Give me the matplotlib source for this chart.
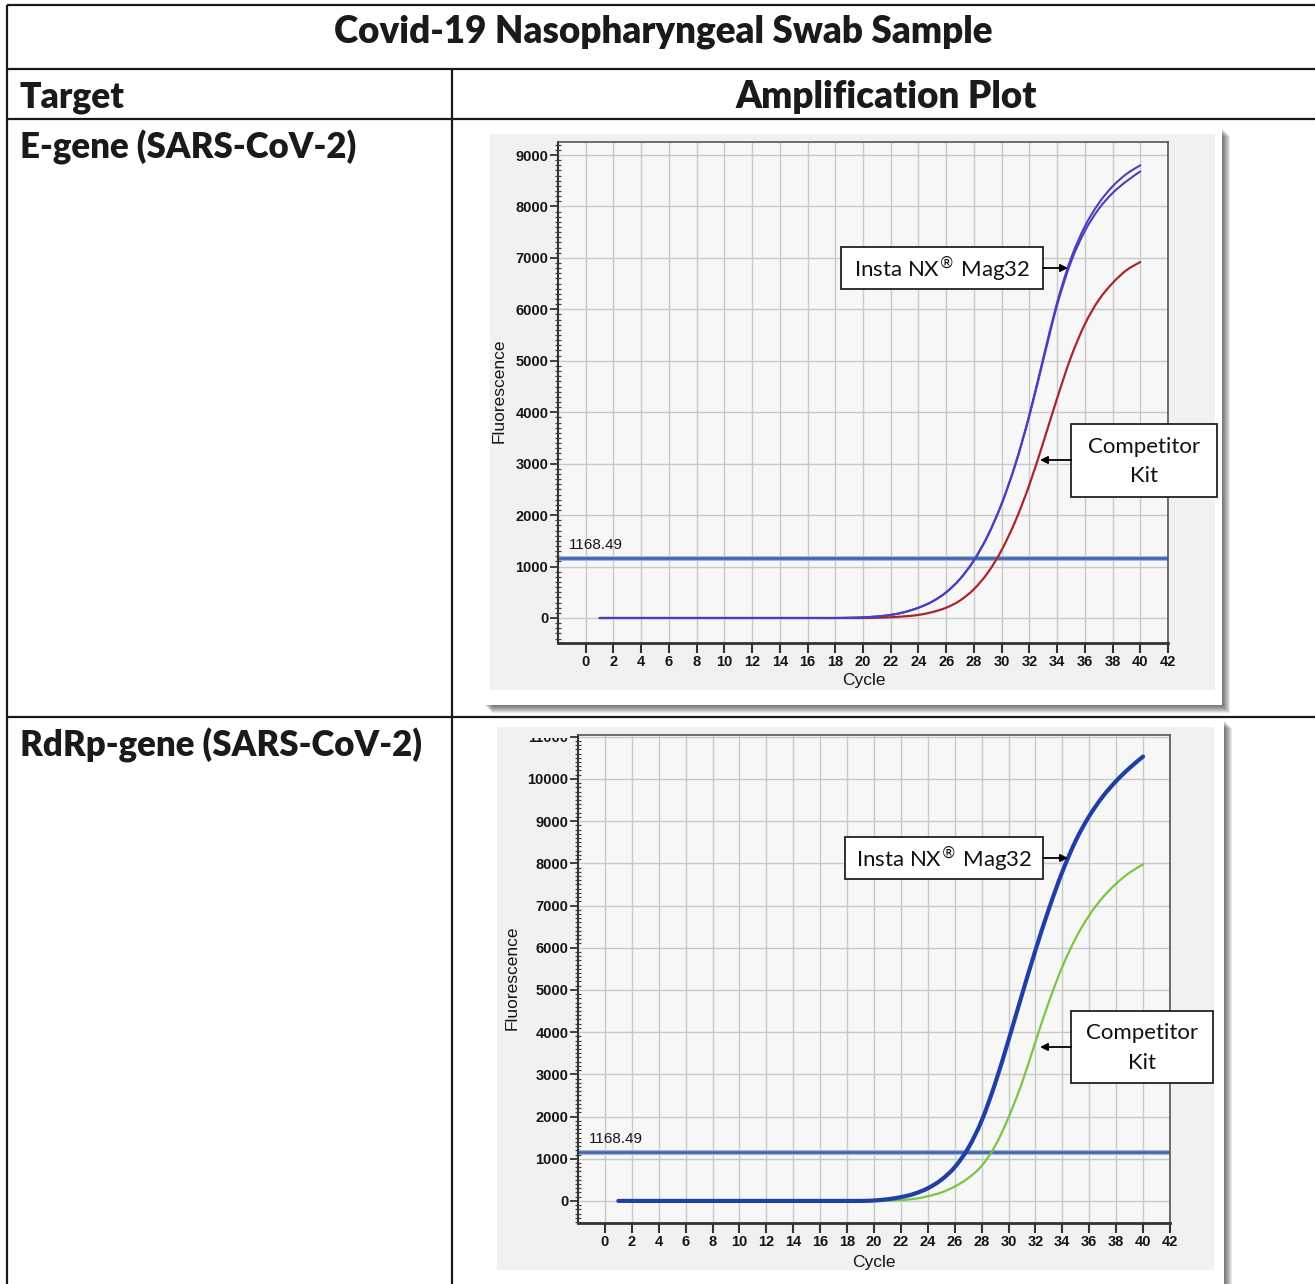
import matplotlib
matplotlib.use("Agg")
import matplotlib.pyplot as plt
from matplotlib.patches import Rectangle, PathPatch
from matplotlib.path import Path
from matplotlib.ticker import MultipleLocator
from matplotlib.transforms import Bbox, TransformedBbox

# ------------------------------------------------------------
# Data
# ------------------------------------------------------------
CYCLES = list(range(1, 41))
THRESHOLD = 1168.49

# E-gene: two Insta NX replicates + competitor kit
E_INSTA_A = [0] * 18 + [4, 12, 30, 60, 115, 200, 320, 500, 760, 1120, 1600, 2220,
                        3000, 3950, 5050, 6130, 6990, 7610, 8060, 8390, 8630, 8800]
E_INSTA_B = [0] * 18 + [4, 12, 30, 60, 115, 200, 320, 500, 760, 1120, 1600, 2220,
                        2990, 3930, 5010, 6080, 6920, 7520, 7950, 8260, 8490, 8680]
E_COMPETITOR = [0] * 20 + [5, 15, 32, 60, 115, 200, 340, 560, 880, 1320,
                           1890, 2590, 3410, 4270, 5070, 5710, 6180, 6510, 6760, 6920]

# RdRp-gene: Insta NX + competitor kit
R_INSTA = [0] * 19 + [10, 40, 90, 170, 300, 500, 800, 1250, 1900, 2780, 3810,
                      4890, 5940, 6920, 7800, 8540, 9120, 9580, 9950, 10260, 10530]
R_COMPETITOR = [0] * 20 + [5, 20, 50, 110, 200, 340, 540, 830, 1300, 1980,
                           2800, 3770, 4720, 5550, 6230, 6770, 7190, 7520, 7780, 7975]

X_TICKS = list(range(0, 43, 2))
E_Y_TICKS = list(range(0, 9001, 1000))
R_Y_TICKS = list(range(0, 11001, 1000))

TITLE = "Covid-19 Nasopharyngeal Swab Sample"
ROW_TARGETS = ["E-gene (SARS-CoV-2)", "RdRp-gene (SARS-CoV-2)"]
INSTA_LABEL = r"Insta NX$^{\circledR}$ Mag32"
COMP_LABEL = "Competitor\nKit"

# ------------------------------------------------------------
# Layout helpers (pixel based, figure is 1315 x 1284)
# ------------------------------------------------------------
W, H = 1315, 1284
TABLE_FONT = "Lato"
LABEL_FONT = "Lato"
PANEL_GRAY = "#f1f1f1"
AXES_BG = "#f7f7f7"

plt.rcParams["font.family"] = ["Liberation Sans", "DejaVu Sans"]
plt.rcParams["mathtext.fontset"] = "dejavusans"


def fig_rect(x0, y0, x1, y1):
    return [x0 / W, 1 - y1 / H, (x1 - x0) / W, (y1 - y0) / H]


def draw_panel(ax, x0, y0, x1, y1, inner):
    # soft drop shadow, then white frame, then gray inner area
    for k in range(1, 9):
        ax.add_patch(Rectangle((x0 + k, y0 + k), x1 - x0, y1 - y0,
                               facecolor="black", alpha=0.085, lw=0, zorder=1))
    ax.add_patch(Rectangle((x0, y0), x1 - x0, y1 - y0, facecolor="white", lw=0, zorder=2))
    ix0, iy0, ix1, iy1 = inner
    ax.add_patch(Rectangle((ix0, iy0), ix1 - ix0, iy1 - iy0, facecolor=PANEL_GRAY, lw=0, zorder=3))


def smooth_curve(ax, xs, ys, **kw):
    # Catmull-Rom through the read points, drawn as cubic Bezier segments
    pts = list(zip(xs, ys))
    verts = [pts[0]]
    codes = [Path.MOVETO]
    n = len(pts)
    for i in range(n - 1):
        p0 = pts[i - 1] if i > 0 else pts[i]
        p1 = pts[i]
        p2 = pts[i + 1]
        p3 = pts[i + 2] if i + 2 < n else pts[i + 1]
        c1 = (p1[0] + (p2[0] - p0[0]) / 6, p1[1] + (p2[1] - p0[1]) / 6)
        c2 = (p2[0] - (p3[0] - p1[0]) / 6, p2[1] - (p3[1] - p1[1]) / 6)
        verts += [c1, c2, p2]
        codes += [Path.CURVE4] * 3
    ax.add_patch(PathPatch(Path(verts, codes), fill=False, capstyle="round",
                           joinstyle="round", **kw))


def style_axes(ax, ylim, yticks, ylabel_xy, xlabel_xy):
    ax.set_facecolor(AXES_BG)
    ax.set_xlim(-2, 42)
    ax.set_ylim(*ylim)
    ax.set_xticks(X_TICKS)
    ax.set_yticks(yticks)
    ax.yaxis.set_minor_locator(MultipleLocator(100))
    ax.grid(True, which="major", color="#c9c9c9", lw=1.0)
    ax.set_axisbelow(True)
    ax.tick_params(axis="x", which="major", direction="out", length=7, width=1.5,
                   color="#333333", labelsize=10.5, pad=2, labelcolor="#151515")
    ax.tick_params(axis="y", which="major", direction="out", length=6, width=1.3,
                   color="#333333", labelsize=10.5, pad=1, labelcolor="#151515")
    ax.tick_params(axis="y", which="minor", direction="inout", length=4, width=0.9,
                   color="#444444")
    for lbl in ax.get_xticklabels() + ax.get_yticklabels():
        lbl.set_fontweight("bold")
    for side in ("top", "right"):
        ax.spines[side].set_color("#555555")
        ax.spines[side].set_linewidth(1.2)
    ax.spines["left"].set_color("#333333")
    ax.spines["left"].set_linewidth(1.5)
    ax.spines["bottom"].set_color("#333333")
    ax.spines["bottom"].set_linewidth(2.0)
    ax.set_ylabel("Fluorescence", fontsize=12.5, color="#151515")
    ax.yaxis.set_label_coords(*ylabel_xy)
    ax.set_xlabel("Cycle", fontsize=12.5, color="#151515")
    ax.xaxis.set_label_coords(*xlabel_xy)

    # threshold line, double-toned like the instrument software
    ax.axhline(THRESHOLD, color="#9db3d8", lw=3.6, zorder=2)
    ax.axhline(THRESHOLD, color="#3f63a8", lw=1.8, zorder=2.1)
    ax.annotate(f"{THRESHOLD:.2f}", xy=(-1.2, THRESHOLD), xytext=(0, 4),
                textcoords="offset points", fontsize=11, color="#151515",
                ha="left", va="bottom")


def label_box(ax, x0, y0, x1, y1, text):
    ax.add_patch(Rectangle((x0, y0), x1 - x0, y1 - y0, facecolor="white",
                           edgecolor="#222222", lw=1.3, zorder=5))
    ax.text((x0 + x1) / 2, (y0 + y1) / 2 + 1, text, ha="center", va="center",
            fontsize=16, family=LABEL_FONT, color="#111111", zorder=6,
            linespacing=1.6)


def arrow(ax, start, end):
    ax.annotate("", xy=end, xytext=start,
                arrowprops=dict(arrowstyle="-|>", color="black", lw=1.3,
                                mutation_scale=11, shrinkA=0, shrinkB=0), zorder=7)


# ------------------------------------------------------------
# Figure
# ------------------------------------------------------------
fig = plt.figure(figsize=(W / 100, H / 100), dpi=100)
fig.patch.set_facecolor("white")

bg = fig.add_axes([0, 0, 1, 1])
bg.set_xlim(0, W)
bg.set_ylim(H, 0)
bg.axis("off")
bg.set_zorder(0)

# table grid
line_kw = dict(color="#1a1a1a", lw=1.6, solid_capstyle="butt", zorder=10)
bg.plot([7, W], [5, 5], **line_kw)
bg.plot([7, 7], [5, H], **line_kw)
bg.plot([7, W], [69, 69], **line_kw)
bg.plot([7, W], [119, 119], **line_kw)
bg.plot([7, W], [717, 717], **line_kw)
bg.plot([452, 452], [69, H], **line_kw)

txt_kw = dict(family=TABLE_FONT, fontweight="heavy", color="#1a1a1a")
bg.text(663, 32, TITLE, ha="center", va="center", fontsize=26.5, **txt_kw)
bg.text(20, 97, "Target", ha="left", va="center", fontsize=25.5, **txt_kw)
bg.text(886, 97, "Amplification Plot", ha="center", va="center", fontsize=26.5, **txt_kw)
bg.text(20, 147, ROW_TARGETS[0], ha="left", va="center", fontsize=25, **txt_kw)
bg.text(20, 745, ROW_TARGETS[1], ha="left", va="center", fontsize=25, **txt_kw)

# image panels
draw_panel(bg, 484, 128, 1222, 705, (490, 134, 1215, 690))
draw_panel(bg, 490, 720, 1224, H + 20, (497, 727, 1214, 1270))

# ---- E-gene plot
ax1 = fig.add_axes(fig_rect(558, 142, 1168, 643))
ax1.set_zorder(2)
style_axes(ax1, (-486, 9253), E_Y_TICKS, (-0.084, 0.504), (0.502, -0.06))
smooth_curve(ax1, CYCLES, E_COMPETITOR, edgecolor="#a8272b", lw=1.6, zorder=3)
smooth_curve(ax1, CYCLES, E_INSTA_B, edgecolor="#4a3fbf", lw=1.5, zorder=4)
smooth_curve(ax1, CYCLES, E_INSTA_A, edgecolor="#4a3fbf", lw=1.5, zorder=4)

# ---- RdRp-gene plot
ax2 = fig.add_axes(fig_rect(578, 735, 1170, 1223))
ax2.set_zorder(2)
style_axes(ax2, (-523, 11040), R_Y_TICKS, (-0.098, 0.502), (0.5, -0.066))
smooth_curve(ax2, CYCLES, R_COMPETITOR, edgecolor="#7cc444", lw=1.6, zorder=3)
smooth_curve(ax2, CYCLES, R_INSTA, edgecolor="#1f3ea6", lw=3.0, zorder=4)

# top label of RdRp axis is cut off by the panel edge in the source image
clip = TransformedBbox(Bbox.from_extents(0, 0, 1, 1 - 737.5 / H), fig.transFigure)
for lbl in ax2.get_yticklabels():
    if lbl.get_text() == "11000":
        lbl.set_clip_box(clip)
        lbl.set_clip_on(True)

# ---- callouts
fg = fig.add_axes([0, 0, 1, 1])
fg.set_xlim(0, W)
fg.set_ylim(H, 0)
fg.axis("off")
fg.set_zorder(5)
fg.patch.set_alpha(0)

label_box(fg, 841, 247, 1043, 289, INSTA_LABEL)
arrow(fg, (1043, 268), (1068, 268))
label_box(fg, 1071, 424, 1217, 497, COMP_LABEL)
arrow(fg, (1071, 460), (1040, 460))

label_box(fg, 845, 837, 1043, 879, INSTA_LABEL)
arrow(fg, (1043, 858), (1068, 858))
label_box(fg, 1071, 1011, 1213, 1083, COMP_LABEL)
arrow(fg, (1071, 1047), (1040, 1047))

fig.savefig("out.png", dpi=100)
